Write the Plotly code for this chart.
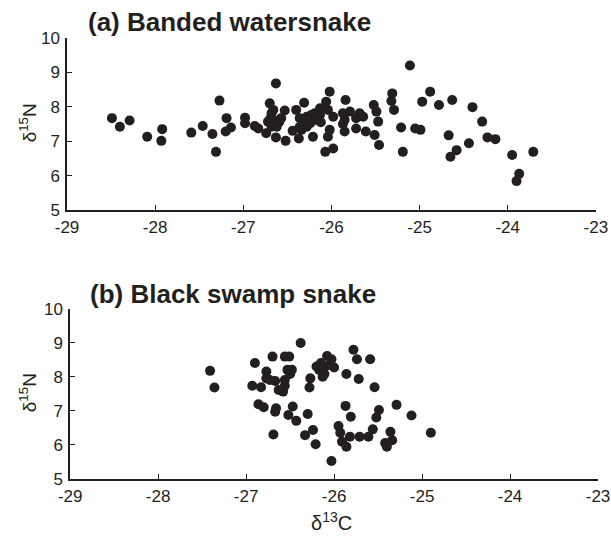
import plotly.graph_objects as go

# (a) Banded watersnake: delta13C (x) and delta15N (y)
banded_c = [-28.49, -28.40, -28.29, -28.09, -27.92, -27.93, -27.59, -27.46, -27.35, -27.27,
            -27.31, -27.19, -27.20, -27.14, -26.98, -26.98, -26.87, -26.83, -26.74,
            -26.63, -26.70, -26.66, -26.68, -26.69, -26.66, -26.72, -26.68, -26.63, -26.59,
            -26.62, -26.57, -26.53, -26.52, -26.44, -26.40, -26.31, -26.36, -26.30, -26.34,
            -26.37, -26.36, -26.28, -26.23, -26.21, -26.24, -26.28, -26.19, -26.17, -26.13,
            -26.13, -26.02, -26.06, -26.04, -25.98, -26.02, -26.04, -26.07, -25.98, -26.12,
            -25.85, -25.87, -25.84, -25.85, -25.79, -25.87, -25.72, -25.72, -25.68, -25.64,
            -25.61, -25.52, -25.49, -25.47, -25.51, -25.46, -25.31, -25.32, -25.29, -25.21,
            -25.19, -25.11, -25.05, -24.99, -24.97, -24.88, -24.78, -24.63, -24.40, -24.29,
            -24.67, -24.58, -24.65, -24.44, -24.23, -24.14, -23.95, -23.71, -23.87, -23.90]
banded_n = [7.67, 7.42, 7.60, 7.13, 7.35, 7.01, 7.25, 7.44, 7.21, 8.18,
            6.69, 7.67, 7.28, 7.40, 7.68, 7.52, 7.44, 7.37, 7.23,
            8.68, 8.10, 7.91, 7.81, 7.67, 7.62, 7.57, 7.42, 7.11, 7.57,
            7.42, 7.67, 7.89, 7.01, 7.30, 7.91, 8.12, 7.67, 7.52, 7.33,
            7.08, 7.42, 7.71, 7.76, 7.13, 7.52, 7.42, 7.81, 7.62, 7.96,
            7.76, 8.44, 8.15, 7.91, 7.71, 7.33, 7.13, 6.69, 6.79, 7.55,
            7.62, 7.81, 8.20, 7.28, 7.86, 7.50, 7.67, 7.37, 7.81, 7.71,
            7.28, 8.05, 7.86, 7.57, 7.18, 6.89, 8.39, 8.17, 7.91, 7.40,
            6.69, 9.20, 7.37, 7.33, 8.15, 8.44, 8.05, 8.20, 7.99, 7.57,
            7.17, 6.74, 6.55, 6.94, 7.11, 7.06, 6.60, 6.69, 6.05, 5.84]

# (b) Black swamp snake
swamp_c = [-27.41, -27.36, -26.90, -26.93, -26.83, -26.77, -26.77, -26.73, -26.67, -26.70,
           -26.86, -26.80, -26.66, -26.67, -26.69, -26.56, -26.51, -26.53, -26.48, -26.50,
           -26.56, -26.56, -26.58, -26.63, -26.47, -26.52, -26.43, -26.38, -26.30, -26.24,
           -26.33, -26.21, -26.27, -26.28, -26.20, -26.15, -26.11, -26.17, -26.08, -26.03,
           -26.00, -26.10, -26.05, -26.13, -26.03, -25.86, -25.78, -25.74, -25.72, -25.59,
           -25.54, -25.87, -25.81, -25.95, -25.93, -25.91, -25.86, -25.82, -25.71, -25.61,
           -25.56, -25.52, -25.49, -25.29, -25.12, -24.90, -25.36, -25.34, -25.42, -25.40]
swamp_n = [8.18, 7.69, 8.41, 7.74, 7.70, 8.16, 7.96, 7.91, 7.88, 8.60,
           7.20, 7.11, 7.08, 6.98, 6.31, 8.60, 8.60, 8.21, 8.21, 8.09,
           7.91, 7.74, 7.57, 7.62, 7.13, 6.88, 6.71, 9.00, 6.91, 6.44,
           6.29, 6.02, 7.96, 7.69, 8.31, 8.41, 8.09, 8.21, 8.62, 8.52,
           8.28, 8.31, 8.36, 8.01, 5.53, 8.09, 8.80, 8.52, 7.94, 8.52,
           7.70, 7.15, 6.83, 6.56, 6.36, 6.10, 5.95, 6.24, 6.24, 6.24,
           6.46, 6.81, 7.03, 7.18, 6.87, 6.36, 6.39, 6.14, 6.06, 5.95]

x_ticks = [-29, -28, -27, -26, -25, -24, -23]
y_ticks = [5, 6, 7, 8, 9, 10]

INK = "#231f20"
FONT = "Arial, Liberation Sans, sans-serif"

fig = go.Figure()
fig.add_trace(go.Scatter(x=banded_c, y=banded_n, mode="markers", xaxis="x", yaxis="y",
                         marker=dict(size=10, color=INK), showlegend=False))
fig.add_trace(go.Scatter(x=swamp_c, y=swamp_n, mode="markers", xaxis="x2", yaxis="y2",
                         marker=dict(size=10, color=INK), showlegend=False))

axis_common = dict(showgrid=False, zeroline=False, showline=True, linecolor=INK, linewidth=1.5,
                   ticks="inside", ticklen=5, tickwidth=1.2, tickcolor=INK, automargin=False,
                   ticklabeloverflow="allow",
                   tickfont=dict(family=FONT, size=17, color=INK))

fig.update_layout(
    width=611, height=545,
    margin=dict(l=67, r=13, t=38, b=66),
    paper_bgcolor="white", plot_bgcolor="white",
    xaxis=dict(domain=[0, 0.996], range=[-29, -23], tickvals=x_ticks,
               ticktext=[str(v) for v in x_ticks], anchor="y", ticklabelstandoff=1, **axis_common),
    yaxis=dict(domain=[0.610, 1], range=[5, 10], tickvals=y_ticks, anchor="x",
               ticklabelstandoff=2, **axis_common),
    xaxis2=dict(domain=[0.006, 1], range=[-29, -23], tickvals=x_ticks,
                ticktext=[str(v) for v in x_ticks], anchor="y2", ticklabelstandoff=1, **axis_common),
    yaxis2=dict(domain=[0, 0.3855], range=[5, 10], tickvals=y_ticks, anchor="x2",
                ticklabelstandoff=2, **axis_common),
    annotations=[
        dict(text="<b>(a) Banded watersnake</b>", x=0.036, y=1.036, xref="paper", yref="paper",
             xanchor="left", yanchor="middle", showarrow=False,
             font=dict(family=FONT, size=26, color=INK)),
        dict(text="<b>(b) Black swamp snake</b>", x=0.04, y=0.4195, xref="paper", yref="paper",
             xanchor="left", yanchor="middle", showarrow=False,
             font=dict(family=FONT, size=26, color=INK)),
        dict(text="δ<sup>15</sup>N", x=-0.073, y=0.807, xref="paper", yref="paper",
             xanchor="center", yanchor="middle", showarrow=False, textangle=-90,
             font=dict(family=FONT, size=19, color=INK)),
        dict(text="δ<sup>15</sup>N", x=-0.073, y=0.195, xref="paper", yref="paper",
             xanchor="center", yanchor="middle", showarrow=False, textangle=-90,
             font=dict(family=FONT, size=19, color=INK)),
        dict(text="δ<sup>13</sup>C", x=0.499, y=-0.097, xref="paper", yref="paper",
             xanchor="center", yanchor="middle", showarrow=False,
             font=dict(family=FONT, size=20, color=INK)),
    ],
)

# remove the default 8px page margin so the 611x545 figure fills the window exactly;
# hide the interactive toolbar so it does not cover the panel title
fig.write_html("out.html", config={"displayModeBar": False},
               post_script="document.body.style.margin='0px';")
